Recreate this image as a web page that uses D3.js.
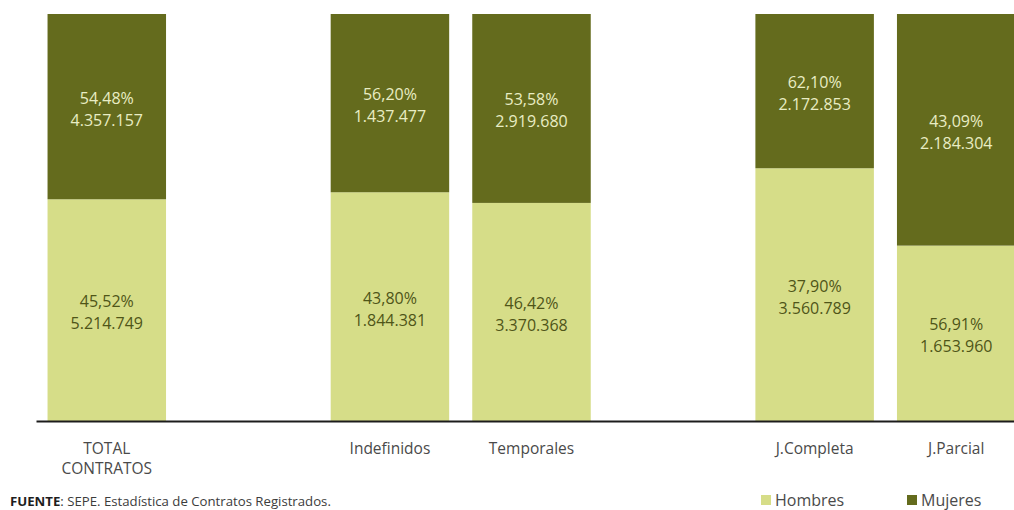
<!DOCTYPE html>
<html lang="es">
<head>
<meta charset="utf-8">
<script src="https://cdn.jsdelivr.net/npm/d3@7"></script>
<style>
  html, body { margin: 0; padding: 0; background: #ffffff; }
  svg { display: block; font-family: "Open Sans", "Noto Sans", sans-serif; }
</style>
</head>
<body>
<svg id="chart" width="1014" height="510"></svg>
<script>
// Contratos registrados por sexo y tipo de contrato
const categories = ["TOTAL CONTRATOS", "Indefinidos", "Temporales", "J.Completa", "J.Parcial"];
const hombres = [5214749, 1844381, 3370368, 3560789, 1653960];
const mujeres = [4357157, 1437477, 2919680, 2172853, 2184304];
const hombresPctLabels = ["45,52%", "43,80%", "46,42%", "37,90%", "56,91%"];
const mujeresPctLabels = ["54,48%", "56,20%", "53,58%", "62,10%", "43,09%"];
const seriesNames = ["Hombres", "Mujeres"];
// Slot order along the axis; empty slots separate the groups
const slots = ["TOTAL CONTRATOS", "_sep1", "Indefinidos", "Temporales", "_sep2", "J.Completa", "J.Parcial"];

const colors = { Hombres: "#d6dd88", Mujeres: "#646b1d" };
const textOn = { Hombres: "#4f5518", Mujeres: "#e9edc4" };

const esLocale = d3.formatLocale({ decimal: ",", thousands: ".", grouping: [3], currency: ["", " €"] });
const fmtCount = esLocale.format(",d");

const svg = d3.select("#chart");

const x = d3.scaleBand()
  .domain(slots)
  .range([36, 1027])
  .paddingInner(0.163)
  .paddingOuter(0.0815);

const y = d3.scaleLinear().domain([0, 1]).range([421, 14]);

const rows = categories.map((c, i) => {
  const total = hombres[i] + mujeres[i];
  return {
    cat: c,
    Hombres: hombres[i] / total,
    Mujeres: mujeres[i] / total,
    hCount: hombres[i], mCount: mujeres[i],
    hPct: hombresPctLabels[i], mPct: mujeresPctLabels[i]
  };
});

const stacked = d3.stack().keys(seriesNames)(rows);

const layers = svg.append("g").selectAll("g")
  .data(stacked)
  .join("g")
  .attr("fill", d => colors[d.key]);

layers.selectAll("rect")
  .data(d => d)
  .join("rect")
  .attr("x", d => x(d.data.cat))
  .attr("width", x.bandwidth())
  .attr("y", d => y(d[1]))
  .attr("height", d => y(d[0]) - y(d[1]));

// Value labels: percentage over count, centred in each segment
stacked.forEach(layer => {
  const key = layer.key;
  const g = svg.append("g")
    .attr("text-anchor", "middle")
    .attr("font-size", 16)
    .attr("fill", textOn[key]);
  layer.forEach(d => {
    const cx = x(d.data.cat) + x.bandwidth() / 2;
    const mid = (y(d[0]) + y(d[1])) / 2;
    const pct = key === "Hombres" ? d.data.hPct : d.data.mPct;
    const cnt = key === "Hombres" ? d.data.hCount : d.data.mCount;
    g.append("text").attr("x", cx).attr("y", mid - 9)
      .attr("dominant-baseline", "central").text(pct);
    g.append("text").attr("x", cx).attr("y", mid + 13)
      .attr("dominant-baseline", "central").text(fmtCount(cnt));
  });
});

// Category axis
const axis = svg.append("g")
  .attr("transform", "translate(0,421)")
  .call(d3.axisBottom(x).tickSize(0).tickSizeOuter(0).tickPadding(0));

axis.select(".domain").attr("stroke", "#1c1c1c").attr("stroke-width", 2);

axis.selectAll(".tick text")
  .attr("font-family", "\"Open Sans\", \"Noto Sans\", sans-serif")
  .attr("font-size", 15.5)
  .attr("fill", "#4a4a4a")
  .attr("dy", null)
  .attr("y", 0)
  .each(function (d) {
    const t = d3.select(this);
    t.text(null);
    if (d.startsWith("_")) return;
    const lines = d === "TOTAL CONTRATOS" ? ["TOTAL", "CONTRATOS"] : [d];
    lines.forEach((ln, k) => {
      t.append("tspan")
        .attr("x", 0)
        .attr("y", 27 + k * 20)
        .attr("dominant-baseline", "central")
        .text(ln);
    });
  });

// Source note
const note = svg.append("text")
  .attr("x", 10).attr("y", 506)
  .attr("font-size", 13.2)
  .attr("fill", "#3c3c3c");
note.append("tspan").attr("font-weight", "bold").attr("fill", "#1e1e1e").text("FUENTE");
note.append("tspan").text(": SEPE. Estadística de Contratos Registrados.");

// Legend
const legendX = [761, 907];
const legend = svg.append("g").selectAll("g")
  .data(seriesNames)
  .join("g")
  .attr("transform", (d, i) => `translate(${legendX[i]},500)`);
legend.append("rect")
  .attr("x", 0).attr("y", -5)
  .attr("width", 10).attr("height", 10)
  .attr("fill", d => colors[d]);
legend.append("text")
  .attr("x", 14).attr("y", 0)
  .attr("dominant-baseline", "central")
  .attr("font-size", 16)
  .attr("fill", "#4a4a4a")
  .text(d => d);
</script>
</body>
</html>
